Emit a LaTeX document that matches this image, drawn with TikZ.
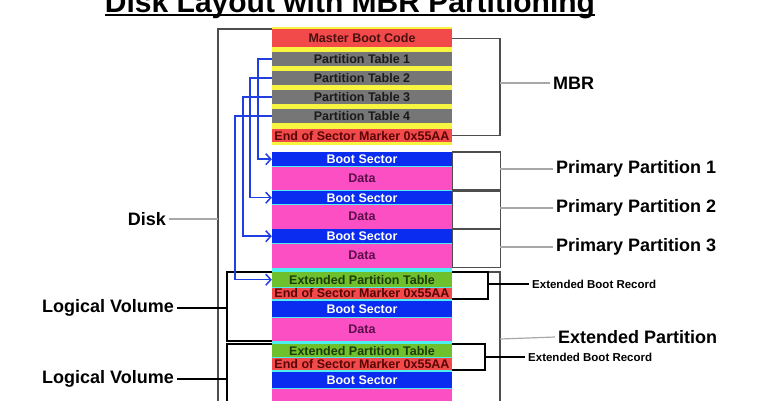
\documentclass[tikz,border=0pt]{standalone}
\usepackage{fontspec}
\setmainfont{Liberation Sans}
\usetikzlibrary{arrows.meta}

\definecolor{mbryellow}{HTML}{F7F540}
\definecolor{codered}{HTML}{F24A4A}
\definecolor{tablegray}{HTML}{767676}
\definecolor{bootblue}{HTML}{0A2CF0}
\definecolor{datapink}{HTML}{FC4FC4}
\definecolor{sepcyan}{HTML}{4DEFEF}
\definecolor{eptgreen}{HTML}{6EC12C}
\definecolor{linkblue}{HTML}{1F3FE0}
\definecolor{mbctext}{HTML}{4A1010}
\definecolor{pttext}{HTML}{1A1A1A}
\definecolor{eostext}{HTML}{5A0505}
\definecolor{datatext}{HTML}{5A0F4A}
\definecolor{epttext}{HTML}{1E3A05}
\definecolor{bracketgray}{HTML}{4D4D4D}
\definecolor{joingray}{HTML}{A8A8A8}

\tikzstyle{cell}=[anchor=north, minimum width=180pt, inner sep=0pt, font=\bfseries\fontsize{12.5}{12.5}\selectfont]
\tikzstyle{mbc}=[cell, fill=codered, text=mbctext, minimum height=18pt]
\tikzstyle{ptab}=[cell, fill=tablegray, text=pttext, minimum height=14pt]
\tikzstyle{eos}=[cell, fill=codered, text=eostext]
\tikzstyle{boot}=[cell, fill=bootblue, text=white]
\tikzstyle{data}=[cell, fill=datapink, text=datatext]
\tikzstyle{ept}=[cell, fill=eptgreen, text=epttext]
\tikzstyle{headline}=[anchor=base, inner sep=0pt, font=\bfseries\fontsize{30}{30}\selectfont]
\tikzstyle{biglabel}=[inner sep=3pt, font=\bfseries\fontsize{18}{18}\selectfont]
\tikzstyle{smalllabel}=[inner sep=3pt, font=\bfseries\fontsize{11.5}{11.5}\selectfont]
\tikzstyle{bracket}=[bracketgray, line width=1.2pt]
\tikzstyle{joinline}=[joingray, line width=1.2pt]
\tikzstyle{ebr}=[black, line width=1.4pt]
\tikzstyle{link}=[linkblue, line width=1.5pt, -{Straight Barb[length=5pt, width=11pt]}]

\begin{document}
\begin{tikzpicture}[x=1pt, y=-1pt]
\useasboundingbox (0,0) rectangle (770,400);
\clip (0,0) rectangle (770,400);

\node[headline] (head) at (350,12) {Disk Layout with MBR Partitioning};
\draw[line width=2.5pt] ([yshift=-3pt]head.base west) -- ([yshift=-3pt]head.base east);

\fill[mbryellow] (272,27) rectangle (452,145);
\fill[sepcyan] (272,166) rectangle (452,410);

\node[mbc] (mbc) at (362,29) {Master Boot Code};
\foreach \i/\y in {1/52, 2/71, 3/90, 4/109}
  \node[ptab] (pt\i) at (362,\y) {Partition Table \i};
\node[eos, minimum height=13pt] (eos) at (362,129) {End of Sector Marker 0x55AA};

\foreach \i/\y/\h/\d in {1/152/14/23, 2/191/13/24, 3/229/14/24} {
  \node[boot, minimum height=\h pt] (boot\i) at (362,\y) {Boot Sector};
  \node[data, minimum height=\d pt] (data\i) at (boot\i.south) {Data};
}

\node[ept, minimum height=15pt] (ept1) at (362,272) {Extended Partition Table};
\node[eos, minimum height=11pt] (eos1) at (ept1.south) {End of Sector Marker 0x55AA};
\node[boot, minimum height=16pt] (boot4) at (362,301) {Boot Sector};
\node[data, minimum height=23pt] (data4) at (boot4.south) {Data};
\node[ept, minimum height=13pt] (ept2) at (362,344) {Extended Partition Table};
\node[eos, minimum height=12pt] (eos2) at (ept2.south) {End of Sector Marker 0x55AA};
\node[boot, minimum height=16pt] (boot5) at (362,372) {Boot Sector};
\node[data, minimum height=23pt] (data5) at (boot5.south) {};

\coordinate (diskjoin) at (218,219);
\coordinate (lv1join) at (227,308);
\coordinate (lv2join) at (227,379);
\draw[bracket] (mbc.north west) -- (218,29) -- (218,410);
\node[biglabel, anchor=east] (disk) at (169,219) {Disk};
\draw[joinline] (disk.east) -- (diskjoin);

\draw[ebr] (ept1.north west) -| (lv1join) |- (data4.south west);
\node[biglabel, anchor=east] (lv1) at (177,308) {Logical Volume};
\draw[ebr] (lv1.east) -- (lv1join);
\draw[ebr] (ept2.north west) -| (lv2join) -- (227,410);
\node[biglabel, anchor=east] (lv2) at (177,379) {Logical Volume};
\draw[ebr] (lv2.east) -- (lv2join);

\coordinate (mbrjoin) at (500,83);
\draw[bracket] (mbc.east) -| (mbrjoin) |- (eos.east);
\node[biglabel, anchor=west] (mbr) at (550,83) {MBR};
\draw[joinline] (mbrjoin) -- (mbr.west);

\foreach \i/\y in {1/169, 2/208, 3/247} {
  \draw[bracket] (boot\i.north east) rectangle ([xshift=48pt]data\i.south east);
  \coordinate (ppjoin\i) at (500,\y);
  \node[biglabel, anchor=west] (pp\i) at (553,\y) {Primary Partition \i};
  \draw[joinline] (ppjoin\i) -- (pp\i.west);
}

\coordinate (extjoin) at (500,339);
\draw[bracket] (ept1.north east) -| (extjoin) -- (500,410);
\node[biglabel, anchor=west] (ext) at (555,337) {Extended Partition};
\draw[joinline] (extjoin) -- (ext.west);

\coordinate (ebrjoin1) at (488,284);
\draw[ebr] (ept1.north east) -| (ebrjoin1) |- (eos1.south east);
\node[smalllabel, anchor=west] (ebr1) at (529,284) {Extended Boot Record};
\draw[ebr] (ebrjoin1) -- (ebr1.west);
\coordinate (ebrjoin2) at (485,357);
\draw[ebr] (ept2.north east) -| (ebrjoin2) |- (eos2.south east);
\node[smalllabel, anchor=west] (ebr2) at (525,357) {Extended Boot Record};
\draw[ebr] (ebrjoin2) -- (ebr2.west);

\foreach \s/\t/\d in {pt1/boot1/-14, pt2/boot2/-22, pt3/boot3/-29, pt4/ept1/-37}
  \draw[link] (\s.west) -- ++(\d,0) |- (\t.west);
\end{tikzpicture}
\end{document}
